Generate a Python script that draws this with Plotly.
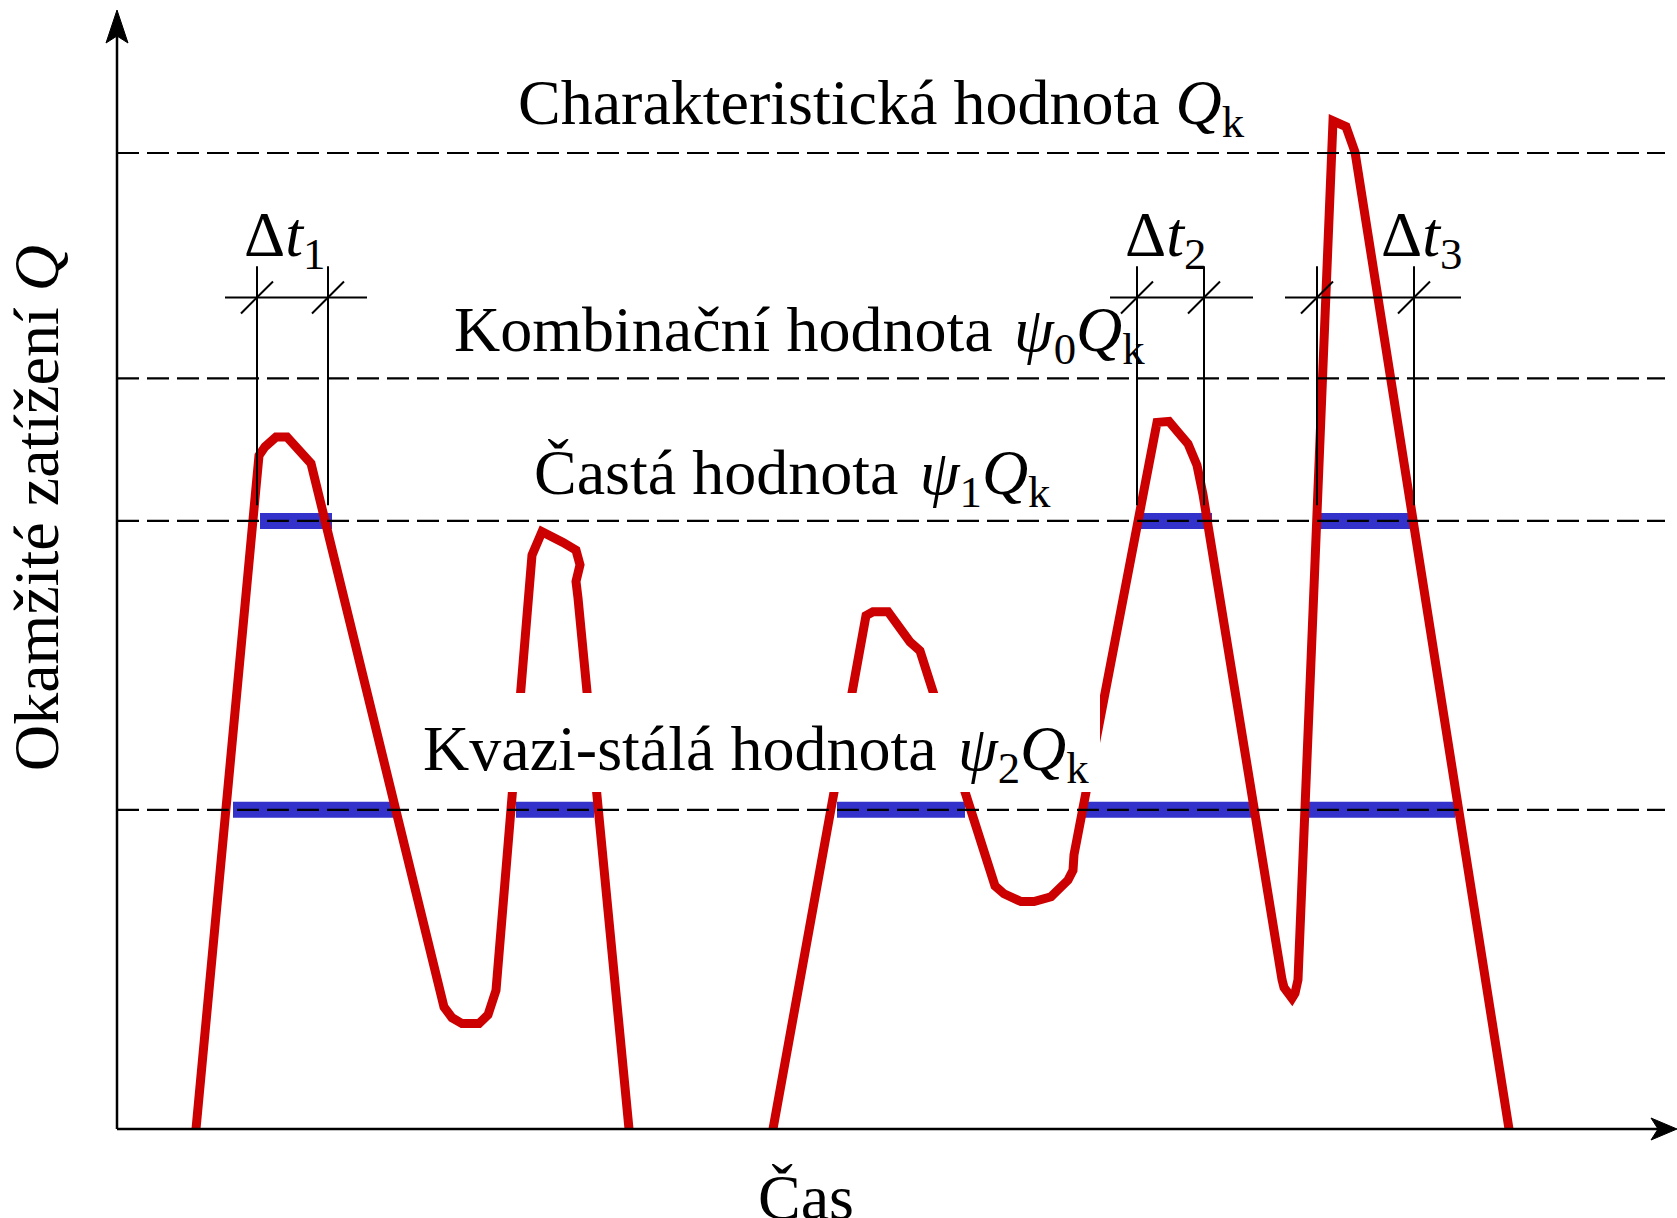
import plotly.graph_objects as go

W, H = 1677, 1218
# data units: time t (arbitrary), load Q in % of Q_k
T_MIN, T_MAX = -11.7, 156.0
Q_MIN, Q_MAX = -9.119, 115.676

# ---- data ----
# instantaneous load history (two separate episodes, None = gap)
t_load = [7.9, 14.2, 14.8, 15.9, 17.0, 18.2, 19.4, 32.7, 33.5, 34.5, 36.2, 37.1, 37.9,
          41.5, 42.5, 44.6, 45.9, 46.3, 45.9, 46.1, 51.2, None,
          65.6, 74.9, 75.6, 77.1, 79.3, 80.3, 87.8, 88.7, 90.4, 91.7, 93.4, 95.1, 95.6, 95.7,
          104.0, 105.2, 106.1, 107.1, 108.0, 108.6, 116.5, 116.7, 117.5, 117.8, 118.1,
          121.6, 122.9, 123.8, 139.2]
q_load = [0.0, 69.0, 69.9, 70.9, 70.9, 69.7, 68.2, 12.5, 11.4, 10.8, 10.8, 11.7, 14.2,
          58.8, 61.2, 60.1, 59.3, 57.8, 56.1, 54.4, 0.0, None,
          0.0, 52.6, 53.0, 53.0, 49.9, 49.0, 24.9, 24.1, 23.3, 23.3, 23.8, 25.5, 26.5, 28.1,
          72.4, 72.5, 71.4, 70.2, 68.0, 65.0, 15.3, 14.5, 13.4, 13.9, 15.3,
          103.3, 102.7, 100.1, 0.0]

# representative levels (% of Q_k)
level_names = ["Qk", "psi0Qk", "psi1Qk", "psi2Qk"]
level_values = [100.0, 76.9, 62.3, 32.7]
level_t_end = 154.8

# time intervals where the load exceeds psi1*Qk and psi2*Qk
psi1_start = [14.3, 101.8, 119.9]
psi1_end = [21.5, 109.5, 129.7]
psi2_start = [11.6, 39.9, 72.0, 96.8, 119.1]
psi2_end = [27.6, 47.7, 84.8, 113.5, 133.8]

# dimension lines for delta t
dt_labels = ["Δ<i>t</i><sub>1</sub>", "Δ<i>t</i><sub>2</sub>", "Δ<i>t</i><sub>3</sub>"]
dt_left = [14.0, 102.0, 120.0]
dt_right = [21.1, 108.7, 129.7]
dt_line_from = [10.8, 99.3, 116.8]
dt_line_to = [25.0, 113.6, 134.4]
dt_label_t = [12.5, 100.6, 126.2]
DT_Q_TOP, DT_Q_BOT, DT_Q_DIM, DT_Q_LABEL = 88.4, 63.9, 85.2, 91.2

level_labels = [
    ("Charakteristická hodnota <i>Q</i><sub>k</sub>", 39.9, 104.7),
    ("Kombinační hodnota\u200a <i>ψ</i><sub>0</sub><i>Q</i><sub>k</sub>", 33.5, 81.5),
    ("Častá hodnota\u200a <i>ψ</i><sub>1</sub><i>Q</i><sub>k</sub>", 41.5, 66.8),
    ("Kvazi-stálá hodnota\u200a <i>ψ</i><sub>2</sub><i>Q</i><sub>k</sub>", 30.4, 38.5),
]

RED = "#CC0000"
BLUE = "#3333CC"
FONT = "Liberation Serif, Times New Roman, serif"


def tx(px):
    return T_MIN + px / W * (T_MAX - T_MIN)


def qy(py):
    return Q_MAX - py / H * (Q_MAX - Q_MIN)


DPX = 0.1          # t units per pixel
DPY = (Q_MAX - Q_MIN) / H  # Q units per pixel

fig = go.Figure()

# blue bars
for a, b in zip(psi1_start, psi1_end):
    fig.add_trace(go.Scatter(x=[a, b], y=[level_values[2]] * 2, mode="lines",
                             line=dict(color=BLUE, width=16), hoverinfo="skip"))
for a, b in zip(psi2_start, psi2_end):
    fig.add_trace(go.Scatter(x=[a, b], y=[level_values[3]] * 2, mode="lines",
                             line=dict(color=BLUE, width=16), hoverinfo="skip"))

# red load curve
fig.add_trace(go.Scatter(x=t_load, y=q_load, mode="lines", connectgaps=False,
                         line=dict(color=RED, width=9), hoverinfo="skip"))

# dashed level lines
for v in level_values:
    fig.add_trace(go.Scatter(x=[0, level_t_end], y=[v, v], mode="lines",
                             line=dict(color="black", width=2.2, dash="22px,8px"),
                             hoverinfo="skip"))

# delta t dimension lines
for l, r, a, b in zip(dt_left, dt_right, dt_line_from, dt_line_to):
    xs = [l, l, None, r, r, None, a, b, None,
          l - 16 * DPX, l + 16 * DPX, None, r - 16 * DPX, r + 16 * DPX]
    ys = [DT_Q_TOP, DT_Q_BOT, None, DT_Q_TOP, DT_Q_BOT, None, DT_Q_DIM, DT_Q_DIM, None,
          DT_Q_DIM - 16 * DPY, DT_Q_DIM + 16 * DPY, None,
          DT_Q_DIM - 16 * DPY, DT_Q_DIM + 16 * DPY]
    fig.add_trace(go.Scatter(x=xs, y=ys, mode="lines",
                             line=dict(color="black", width=2), hoverinfo="skip"))

shapes = []
# axes
shapes.append(dict(type="line", xref="x", yref="y", x0=0, y0=0, x1=0, y1=qy(30),
                   line=dict(color="black", width=2.5)))
shapes.append(dict(type="line", xref="x", yref="y", x0=0, y0=0, x1=tx(1660), y1=0,
                   line=dict(color="black", width=2.5)))
# arrow heads
shapes.append(dict(type="path", xref="x", yref="y",
                   path=f"M {tx(117)},{qy(10)} L {tx(106)},{qy(43)} L {tx(117)},{qy(36)} "
                        f"L {tx(128)},{qy(43)} Z",
                   fillcolor="black", line=dict(color="black", width=1)))
shapes.append(dict(type="path", xref="x", yref="y",
                   path=f"M {tx(1677)},{qy(1129)} L {tx(1651)},{qy(1118)} L {tx(1658)},{qy(1129)} "
                        f"L {tx(1651)},{qy(1140)} Z",
                   fillcolor="black", line=dict(color="black", width=1)))
# white background behind the quasi-permanent label
shapes.append(dict(type="rect", xref="x", yref="y", layer="above",
                   x0=tx(410), x1=tx(1100), y0=qy(792), y1=qy(693),
                   fillcolor="white", line=dict(width=0)))

annotations = []
for text, t0, q0 in level_labels:
    annotations.append(dict(text=text, x=t0, y=q0, xref="x", yref="y",
                            xanchor="left", yanchor="middle", showarrow=False,
                            font=dict(family=FONT, size=64, color="black")))
for text, t0 in zip(dt_labels, dt_label_t):
    annotations.append(dict(text=text, x=t0, y=DT_Q_LABEL, xref="x", yref="y",
                            xanchor="left", yanchor="middle", showarrow=False,
                            font=dict(family=FONT, size=64, color="black")))
annotations.append(dict(text="Čas", x=tx(756), y=qy(1197), xref="x", yref="y",
                        xanchor="left", yanchor="middle", showarrow=False,
                        font=dict(family=FONT, size=64, color="black")))
annotations.append(dict(text="Okamžité zatížení <i>Q</i>", x=tx(36), y=qy(508),
                        xref="x", yref="y", xanchor="center", yanchor="middle",
                        textangle=-90, showarrow=False,
                        font=dict(family=FONT, size=64, color="black")))

fig.update_layout(
    width=W, height=H, autosize=False,
    margin=dict(l=0, r=0, t=0, b=0, pad=0),
    paper_bgcolor="white", plot_bgcolor="white",
    showlegend=False,
    xaxis=dict(range=[T_MIN, T_MAX], visible=False, fixedrange=True),
    yaxis=dict(range=[Q_MIN, Q_MAX], visible=False, fixedrange=True),
    shapes=shapes, annotations=annotations,
)

fig.write_html("out.html")
